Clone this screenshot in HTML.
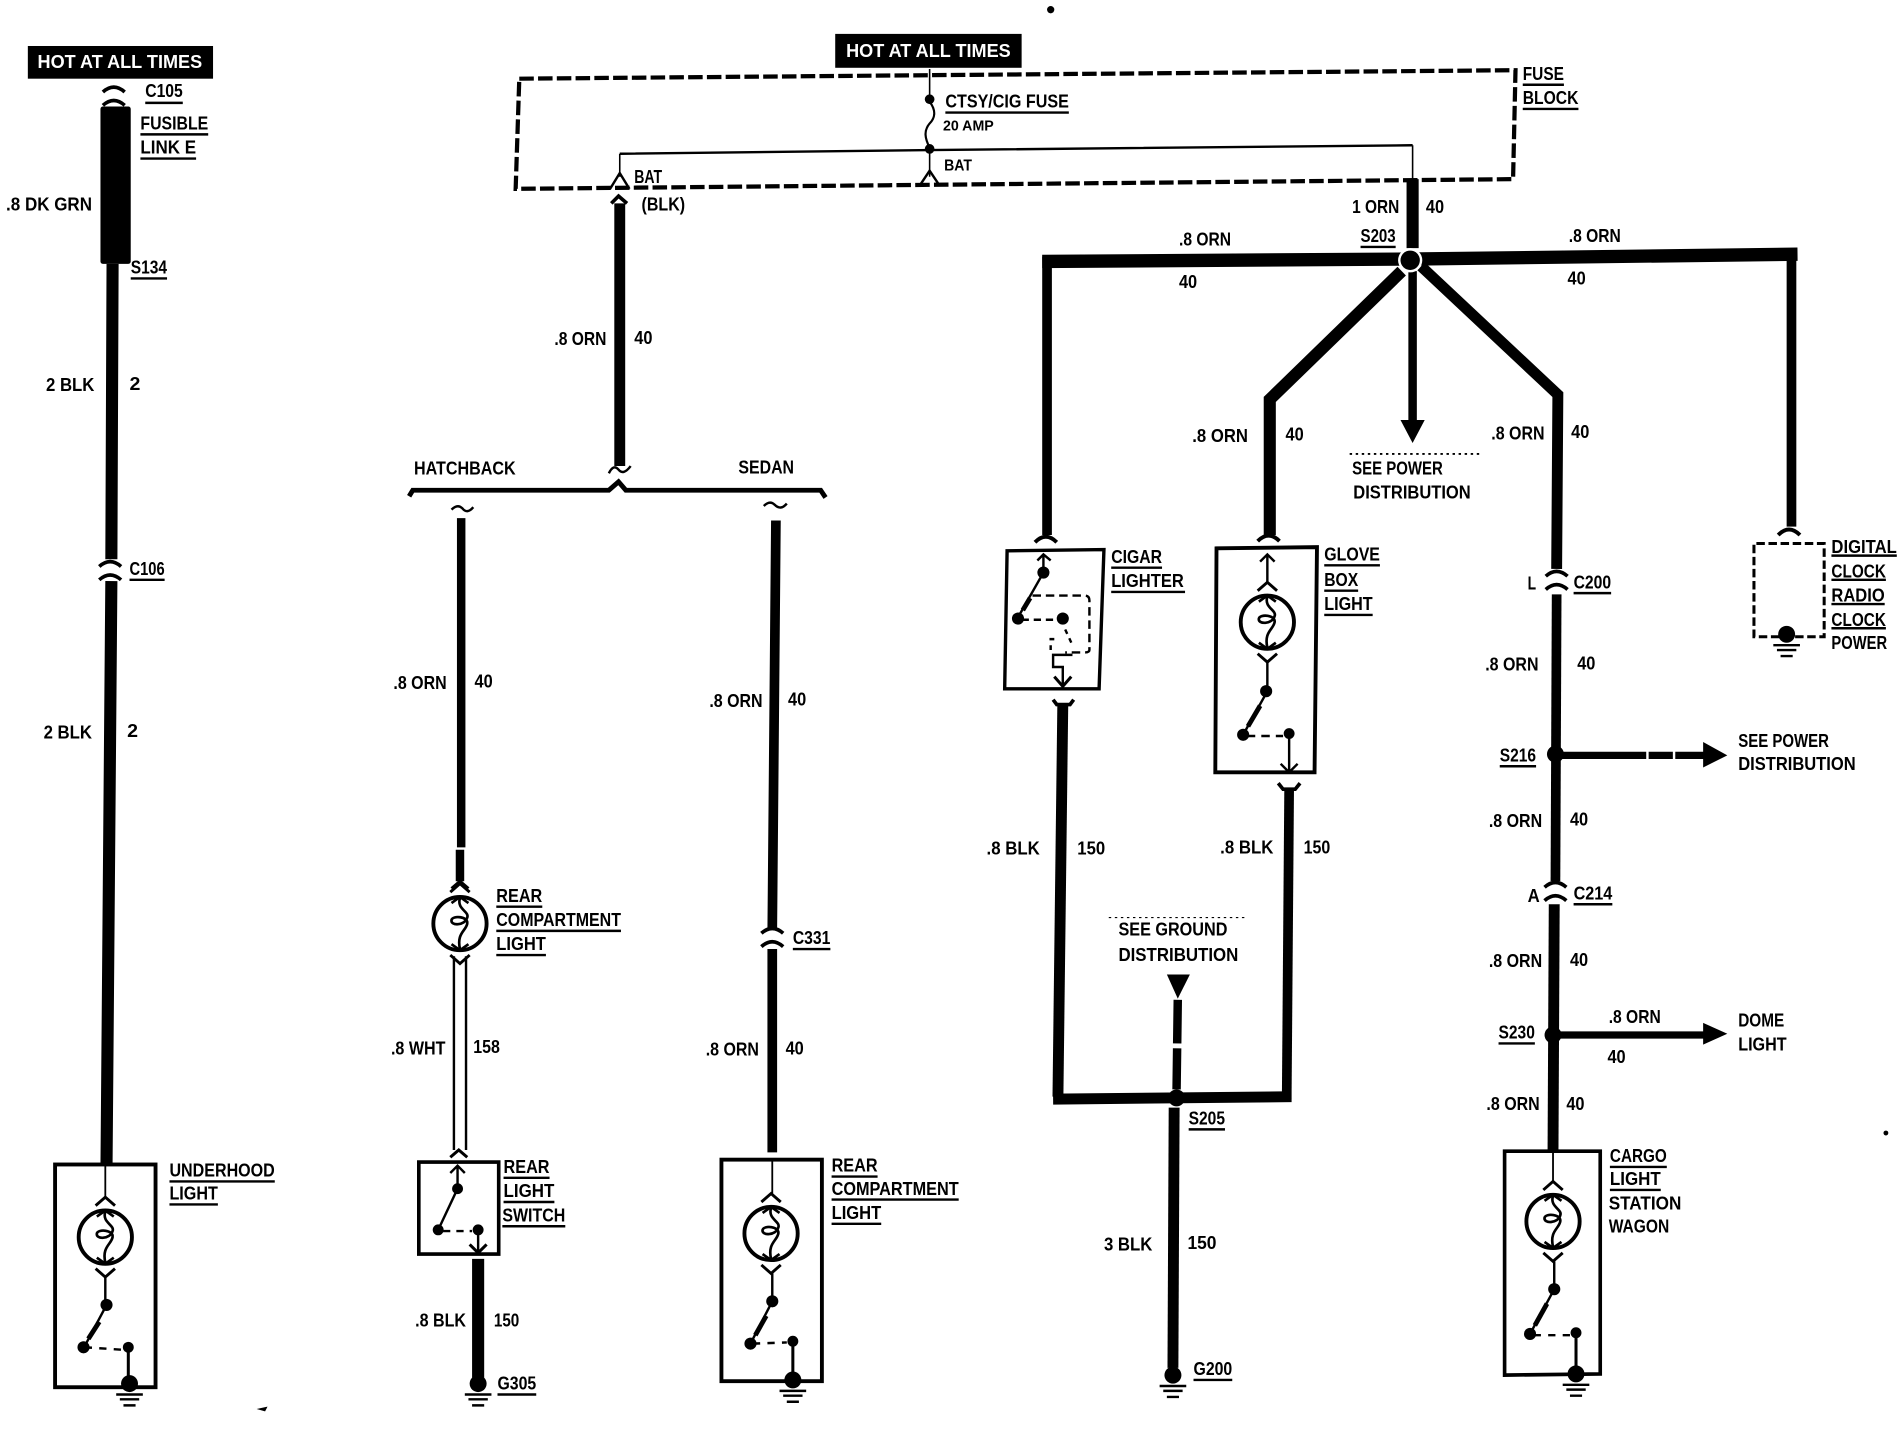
<!DOCTYPE html>
<html><head><meta charset="utf-8"><title>Courtesy light wiring diagram</title>
<style>
html,body{margin:0;padding:0;background:#fff}
svg{display:block}
text{font-family:"Liberation Sans",sans-serif;font-weight:bold;font-size:15px;fill:#000}
.w{fill:#fff}
.l{fill:none;stroke:#000;stroke-linecap:butt;stroke-linejoin:miter}
.u{stroke:#000;stroke-width:2;fill:none}
</style></head><body>
<svg xmlns="http://www.w3.org/2000/svg" width="1898" height="1440" viewBox="0 0 1568 1189.6" preserveAspectRatio="none">
<defs>
<g id="lamp" class="l">
<circle r="22" stroke-width="3.2"/>
<path d="M-8,-26 L0,-33 L8,-26 M-8,26 L0,33 L8,26" stroke-width="2.4"/>
<path d="M-7,-17 L0,-22 L7,-17 M-7,17 L0,22 L7,17" stroke-width="2.2"/>
<path d="M0,-21 C-3,-12 8,-10 6,-5 C4,2 -8,2 -7,-3 C-6,-7 7,-6 6,0 C5,6 -3,8 0,21" stroke-width="2.2"/>
</g>
<g id="gnd"><circle r="7" cy="0"/><path d="M-11,9 H11 M-8,13 H8 M-5,18 H5" stroke="#000" stroke-width="2"/></g>
<path id="arcd" class="l" stroke-width="3.2" d="M-9,-1 Q0,-10 9,-1"/>
<g id="conn" class="l" stroke-width="3"><path d="M-9,-3 Q0,-11 9,-3 M-9,8 Q0,0 9,8"/></g>
</defs>
<rect width="1568" height="1190" fill="#fff"/>

<!-- left column -->
<rect x="23" y="38" width="153" height="27"/>
<text class="w" x="31" y="56" textLength="136" lengthAdjust="spacingAndGlyphs">HOT AT ALL TIMES</text>
<use href="#conn" x="94" y="79"/>
<rect x="83" y="88" width="25" height="130" rx="2"/>
<path class="l" stroke-width="10" d="M93,218 L92,462 M92,480 L88,962"/>
<use href="#conn" x="91" y="471"/>
<rect x="45.500" y="962" width="83" height="184" class="l" stroke-width="3.2"/>
<path class="l" stroke-width="1.5" d="M87,962 V990"/>
<use href="#lamp" x="87" y="1022"/>
<path class="l" stroke-width="2" d="M87,1055 V1078 M87,1080 L70,1112"/>
<path class="l" stroke-width="4" d="M82,1092 L73,1106"/>
<circle cx="88" cy="1078" r="5"/><circle cx="69" cy="1113" r="5"/><circle cx="106" cy="1113" r="4.500"/>
<path class="l" stroke-width="2" d="M70,1113 L100,1115" stroke-dasharray="6 6"/>
<path class="l" stroke-width="2.500" d="M106,1113 V1140"/>
<use href="#gnd" x="107" y="1143"/>

<!-- fuse block -->
<rect x="690" y="28" width="154" height="28"/>
<text class="w" x="699" y="47" textLength="136" lengthAdjust="spacingAndGlyphs">HOT AT ALL TIMES</text>
<path class="l" stroke-width="3.500" stroke-dasharray="12 3.500" d="M429,65 L1252,58 L1250,148 L426,156 Z"/>
<path class="l" stroke-width="1.300" d="M768,57 V80 M1167,120 V150 M512,127 V146 M768,124 V146"/>
<path class="l" stroke-width="2" d="M512,127 L768,124 L1167,120"/>
<path class="l" stroke-width="1.800" d="M768,84 C774,92 772,98 768,102 C763,108 764,114 768,122"/>
<circle cx="768" cy="82" r="4"/><circle cx="768" cy="123" r="4"/>
<path class="l" stroke-width="2" d="M504,156 L512,143 L520,156 M760,153 L768,141 L776,153"/>
<path class="l" stroke-width="9" d="M512,168 L512,385"/>
<path class="l" stroke-width="3" d="M505,168 L511,162 L518,168"/>
<path class="l" stroke-width="2" d="M503,391 Q507,383 511,388 Q515,393 521,385"/>

<!-- hatchback / sedan bus -->
<path class="l" stroke-width="4" d="M338,410 L341,405 H503 L511,398 L517,405 H678 L682,411"/>
<path class="l" stroke-width="2" d="M373,421 Q378,416 382,420 Q386,425 391,419"/>
<path class="l" stroke-width="2" d="M631,418 Q636,413 640,417 Q645,422 650,416"/>
<path class="l" stroke-width="7" d="M381,428 L381,700"/>
<path class="l" stroke-width="7" d="M380,702 V728"/>
<path class="l" stroke-width="2.500" d="M373,734 L380,728 L387,734"/>
<use href="#lamp" x="380" y="763"/>
<path class="l" stroke-width="2" d="M375,790 V950 M385,790 V950"/>
<path class="l" stroke-width="2.500" d="M372,956 L379,950 L386,956"/>
<rect x="346" y="960" width="66" height="76" class="l" stroke-width="3"/>
<path class="l" stroke-width="2" d="M372,969 L378,963 L384,969 M378,963 V982 L362,1016 M395,1016 V1035"/>
<path class="l" stroke-width="2.500" d="M388,1028 L395,1035 L402,1028"/>
<path class="l" stroke-width="2" d="M366,1017 H390" stroke-dasharray="6 5"/>
<circle cx="378" cy="982" r="4.500"/><circle cx="362" cy="1016" r="4.500"/><circle cx="395" cy="1016" r="4.500"/>
<path class="l" stroke-width="10" d="M395,1040 V1138"/>
<use href="#gnd" x="395" y="1143"/>

<path class="l" stroke-width="8" d="M641,430 L638,768 M638,784 L638,952"/>
<use href="#conn" x="638" y="774"/>
<rect x="596" y="958" width="83" height="183" class="l" stroke-width="3.200"/>
<path class="l" stroke-width="1.500" d="M638,958 V986"/>
<use href="#lamp" x="637" y="1019"/>
<path class="l" stroke-width="2" d="M638,1052 V1075 L620,1110"/>
<path class="l" stroke-width="4" d="M633,1087 L624,1103"/>
<circle cx="638" cy="1075" r="5"/><circle cx="620" cy="1110" r="5"/><circle cx="655" cy="1108" r="4.500"/>
<path class="l" stroke-width="2" d="M622,1110 L650,1109" stroke-dasharray="6 6"/>
<path class="l" stroke-width="2.500" d="M655,1108 V1135"/>
<use href="#gnd" x="655" y="1140"/>

<!-- S203 distribution -->
<path class="l" stroke-width="10" d="M1167,148 V205"/>
<path class="l" stroke-width="11" d="M861,216 L1165,214 L1485,210"/>
<path class="l" stroke-width="8" d="M865,212 V442 M1480,206 V435"/>
<path class="l" stroke-width="10" d="M1158,224 L1049,330 L1049,442"/>
<path class="l" stroke-width="9" d="M1174,220 L1287,326 L1286,470"/>
<path class="l" stroke-width="7" d="M1167,224 V348"/>
<polygon points="1157,347 1177,347 1167,366"/>
<circle cx="1165" cy="215" r="10" fill="#fff"/>
<circle cx="1165" cy="215" r="8"/>
<use href="#arcd" x="864" y="449"/>
<use href="#arcd" x="1048" y="448"/>
<use href="#arcd" x="1478" y="443"/>

<!-- cigar lighter -->
<path class="l" stroke-width="2.800" d="M832,455 L912,454 L908,569 L830,569 Z"/>
<path class="l" stroke-width="2" d="M857,463 L862,458 L868,463 M862,458 V473 L841,510"/>
<path class="l" stroke-width="4" d="M851,494 L845,504"/>
<circle cx="862" cy="473" r="5"/><circle cx="841" cy="511" r="5"/><circle cx="878" cy="511" r="5"/>
<path class="l" stroke-width="2" d="M844,512 L873,512" stroke-dasharray="6 4"/>
<path class="l" stroke-width="2" d="M853,492 H896 Q900,492 900,496 V537 Q900,539 896,539 H880" stroke-dasharray="7 4"/>
<path class="l" stroke-width="2" d="M880,520 L886,533 M868,537 V528 H874" stroke-dasharray="4 4"/>
<path class="l" stroke-width="2" d="M886,541 H870 V551 H878 V567"/>
<path class="l" stroke-width="2.500" d="M871,559 L878,567 L885,559"/>
<path class="l" stroke-width="3" d="M870,578 L873,582 H884 L887,578"/>
<path class="l" stroke-width="9" d="M878,582 L874,906"/>

<!-- glove box -->
<path class="l" stroke-width="3.200" d="M1005,453 L1088,452 L1086,638 L1004,638 Z"/>
<path class="l" stroke-width="2" d="M1041,464 L1047,458 L1053,464 M1047,458 V481"/>
<use href="#lamp" x="1047" y="514"/>
<path class="l" stroke-width="2" d="M1047,547 V571 L1027,607"/>
<path class="l" stroke-width="4" d="M1041,583 L1031,600"/>
<circle cx="1046" cy="571" r="5"/><circle cx="1027" cy="607" r="5"/><circle cx="1065" cy="606" r="4.500"/>
<path class="l" stroke-width="2" d="M1030,608 L1060,608" stroke-dasharray="7 5"/>
<path class="l" stroke-width="2" d="M1065,606 V638 M1058,631 L1065,638 L1072,631"/>
<path class="l" stroke-width="3" d="M1056,647 L1060,652 H1070 L1074,647"/>
<path class="l" stroke-width="8" d="M1065,652 L1063,908"/>

<!-- S205 -->
<path class="l" stroke-width="9" d="M870,908 L1067,906"/>
<polygon points="964,805 983,805 973,825"/>
<path class="l" stroke-width="7" stroke-dasharray="36 4" d="M973,826 L972,900"/>
<circle cx="972" cy="907" r="7"/>
<path class="l" stroke-width="9" d="M970,915 L969,1130"/>
<use href="#gnd" x="969" y="1136"/>
<path d="M916,758 H1030" stroke="#000" stroke-width="1" stroke-dasharray="2 3"/>
<path d="M1115,375 H1222" stroke="#000" stroke-width="1.500" stroke-dasharray="2 3"/>

<!-- right column -->
<use href="#conn" x="1286" y="479"/>
<path class="l" stroke-width="8" d="M1286,491 L1285,728"/>
<use href="#conn" x="1285" y="736"/>
<path class="l" stroke-width="9" d="M1284,747 L1283,951"/>
<circle cx="1285" cy="623" r="7"/>
<circle cx="1283" cy="855" r="7"/>
<path class="l" stroke-width="6" stroke-dasharray="70 2 20 2" d="M1290,624 H1408"/>
<polygon points="1407,613 1427,624 1407,634"/>
<path class="l" stroke-width="6" d="M1288,855 H1408"/>
<polygon points="1407,845 1427,854 1407,863"/>
<path class="l" stroke-width="3" d="M1243,951 H1322 V1135 L1243,1136 Z"/>
<path class="l" stroke-width="1.500" d="M1283,951 V976"/>
<use href="#lamp" x="1283" y="1009"/>
<path class="l" stroke-width="2" d="M1284,1042 V1065 L1264,1102"/>
<path class="l" stroke-width="4" d="M1278,1077 L1268,1095"/>
<circle cx="1284" cy="1065" r="5"/><circle cx="1264" cy="1102" r="5"/><circle cx="1302" cy="1101" r="4.500"/>
<path class="l" stroke-width="2" d="M1267,1103 L1297,1103" stroke-dasharray="6 6"/>
<path class="l" stroke-width="2.500" d="M1302,1101 V1130"/>
<use href="#gnd" x="1302" y="1135"/>

<path class="l" stroke-width="2.500" stroke-dasharray="7 3" d="M1451,449 H1507 V526 H1449 V449"/>
<use href="#gnd" x="1476" y="524"/>

<!-- specks -->
<circle cx="868" cy="8" r="3"/><circle cx="1558" cy="936" r="2"/><path d="M212,1164 L221,1162 L219,1166 Z"/>

<!-- labels -->
<g>
<text x="120" y="80" textLength="31" lengthAdjust="spacingAndGlyphs">C105</text>
<text x="116" y="107" textLength="56" lengthAdjust="spacingAndGlyphs">FUSIBLE</text>
<text x="116" y="127" textLength="46" lengthAdjust="spacingAndGlyphs">LINK E</text>
<text x="5" y="174" textLength="71" lengthAdjust="spacingAndGlyphs">.8 DK GRN</text>
<text x="108" y="226" textLength="30" lengthAdjust="spacingAndGlyphs">S134</text>
<text x="38" y="323" textLength="40" lengthAdjust="spacingAndGlyphs">2 BLK</text>
<text x="107" y="322" textLength="9" lengthAdjust="spacingAndGlyphs">2</text>
<text x="107" y="475" textLength="29" lengthAdjust="spacingAndGlyphs">C106</text>
<text x="36" y="610" textLength="40" lengthAdjust="spacingAndGlyphs">2 BLK</text>
<text x="105" y="609" textLength="9" lengthAdjust="spacingAndGlyphs">2</text>
<text x="140" y="972" textLength="87" lengthAdjust="spacingAndGlyphs">UNDERHOOD</text>
<text x="140" y="991" textLength="40" lengthAdjust="spacingAndGlyphs">LIGHT</text>
<text x="524" y="151" textLength="23" lengthAdjust="spacingAndGlyphs">BAT</text>
<text x="530" y="174" textLength="36" lengthAdjust="spacingAndGlyphs">(BLK)</text>
<text x="781" y="89" textLength="102" lengthAdjust="spacingAndGlyphs">CTSY/CIG FUSE</text>
<text x="779" y="108" textLength="42" lengthAdjust="spacingAndGlyphs" style="font-size:12px">20 AMP</text>
<text x="780" y="141" textLength="23" lengthAdjust="spacingAndGlyphs" style="font-size:13px">BAT</text>
<text x="1258" y="66" textLength="34" lengthAdjust="spacingAndGlyphs">FUSE</text>
<text x="1258" y="86" textLength="46" lengthAdjust="spacingAndGlyphs">BLOCK</text>
<text x="1117" y="176" textLength="39" lengthAdjust="spacingAndGlyphs">1 ORN</text>
<text x="1178" y="176" textLength="15" lengthAdjust="spacingAndGlyphs">40</text>
<text x="1124" y="200" textLength="29" lengthAdjust="spacingAndGlyphs">S203</text>
<text x="974" y="203" textLength="43" lengthAdjust="spacingAndGlyphs">.8 ORN</text>
<text x="974" y="238" textLength="15" lengthAdjust="spacingAndGlyphs">40</text>
<text x="1296" y="200" textLength="43" lengthAdjust="spacingAndGlyphs">.8 ORN</text>
<text x="1295" y="235" textLength="15" lengthAdjust="spacingAndGlyphs">40</text>
<text x="458" y="285" textLength="43" lengthAdjust="spacingAndGlyphs">.8 ORN</text>
<text x="524" y="284" textLength="15" lengthAdjust="spacingAndGlyphs">40</text>
<text x="342" y="392" textLength="84" lengthAdjust="spacingAndGlyphs">HATCHBACK</text>
<text x="610" y="391" textLength="46" lengthAdjust="spacingAndGlyphs">SEDAN</text>
<text x="325" y="569" textLength="44" lengthAdjust="spacingAndGlyphs">.8 ORN</text>
<text x="392" y="568" textLength="15" lengthAdjust="spacingAndGlyphs">40</text>
<text x="586" y="584" textLength="44" lengthAdjust="spacingAndGlyphs">.8 ORN</text>
<text x="651" y="583" textLength="15" lengthAdjust="spacingAndGlyphs">40</text>
<text x="410" y="745" textLength="38" lengthAdjust="spacingAndGlyphs">REAR</text>
<text x="410" y="765" textLength="103" lengthAdjust="spacingAndGlyphs">COMPARTMENT</text>
<text x="410" y="785" textLength="41" lengthAdjust="spacingAndGlyphs">LIGHT</text>
<text x="655" y="780" textLength="31" lengthAdjust="spacingAndGlyphs">C331</text>
<text x="323" y="871" textLength="45" lengthAdjust="spacingAndGlyphs">.8 WHT</text>
<text x="391" y="870" textLength="22" lengthAdjust="spacingAndGlyphs">158</text>
<text x="583" y="872" textLength="44" lengthAdjust="spacingAndGlyphs">.8 ORN</text>
<text x="649" y="871" textLength="15" lengthAdjust="spacingAndGlyphs">40</text>
<text x="416" y="969" textLength="38" lengthAdjust="spacingAndGlyphs">REAR</text>
<text x="416" y="989" textLength="42" lengthAdjust="spacingAndGlyphs">LIGHT</text>
<text x="415" y="1009" textLength="52" lengthAdjust="spacingAndGlyphs">SWITCH</text>
<text x="687" y="968" textLength="38" lengthAdjust="spacingAndGlyphs">REAR</text>
<text x="687" y="987" textLength="105" lengthAdjust="spacingAndGlyphs">COMPARTMENT</text>
<text x="687" y="1007" textLength="41" lengthAdjust="spacingAndGlyphs">LIGHT</text>
<text x="343" y="1096" textLength="42" lengthAdjust="spacingAndGlyphs">.8 BLK</text>
<text x="408" y="1096" textLength="21" lengthAdjust="spacingAndGlyphs">150</text>
<text x="411" y="1148" textLength="32" lengthAdjust="spacingAndGlyphs">G305</text>
<text x="918" y="465" textLength="42" lengthAdjust="spacingAndGlyphs">CIGAR</text>
<text x="918" y="485" textLength="60" lengthAdjust="spacingAndGlyphs">LIGHTER</text>
<text x="1094" y="463" textLength="46" lengthAdjust="spacingAndGlyphs">GLOVE</text>
<text x="1094" y="484" textLength="28" lengthAdjust="spacingAndGlyphs">BOX</text>
<text x="1094" y="504" textLength="40" lengthAdjust="spacingAndGlyphs">LIGHT</text>
<text x="985" y="365" textLength="46" lengthAdjust="spacingAndGlyphs">.8 ORN</text>
<text x="1062" y="364" textLength="15" lengthAdjust="spacingAndGlyphs">40</text>
<text x="1117" y="392" textLength="75" lengthAdjust="spacingAndGlyphs">SEE POWER</text>
<text x="1118" y="412" textLength="97" lengthAdjust="spacingAndGlyphs">DISTRIBUTION</text>
<text x="1232" y="363" textLength="44" lengthAdjust="spacingAndGlyphs">.8 ORN</text>
<text x="1298" y="362" textLength="15" lengthAdjust="spacingAndGlyphs">40</text>
<text x="1262" y="487" textLength="7" lengthAdjust="spacingAndGlyphs">L</text>
<text x="1300" y="486" textLength="31" lengthAdjust="spacingAndGlyphs">C200</text>
<text x="1513" y="457" textLength="54" lengthAdjust="spacingAndGlyphs">DIGITAL</text>
<text x="1513" y="477" textLength="45" lengthAdjust="spacingAndGlyphs">CLOCK</text>
<text x="1513" y="497" textLength="44" lengthAdjust="spacingAndGlyphs">RADIO</text>
<text x="1513" y="517" textLength="45" lengthAdjust="spacingAndGlyphs">CLOCK</text>
<text x="1513" y="536" textLength="46" lengthAdjust="spacingAndGlyphs">POWER</text>
<text x="1227" y="554" textLength="44" lengthAdjust="spacingAndGlyphs">.8 ORN</text>
<text x="1303" y="553" textLength="15" lengthAdjust="spacingAndGlyphs">40</text>
<text x="1239" y="629" textLength="30" lengthAdjust="spacingAndGlyphs">S216</text>
<text x="1436" y="617" textLength="75" lengthAdjust="spacingAndGlyphs">SEE POWER</text>
<text x="1436" y="636" textLength="97" lengthAdjust="spacingAndGlyphs">DISTRIBUTION</text>
<text x="1230" y="683" textLength="44" lengthAdjust="spacingAndGlyphs">.8 ORN</text>
<text x="1297" y="682" textLength="15" lengthAdjust="spacingAndGlyphs">40</text>
<text x="1262" y="745" textLength="10" lengthAdjust="spacingAndGlyphs">A</text>
<text x="1300" y="743" textLength="32" lengthAdjust="spacingAndGlyphs">C214</text>
<text x="1230" y="799" textLength="44" lengthAdjust="spacingAndGlyphs">.8 ORN</text>
<text x="1297" y="798" textLength="15" lengthAdjust="spacingAndGlyphs">40</text>
<text x="1238" y="858" textLength="30" lengthAdjust="spacingAndGlyphs">S230</text>
<text x="1329" y="845" textLength="43" lengthAdjust="spacingAndGlyphs">.8 ORN</text>
<text x="1328" y="878" textLength="15" lengthAdjust="spacingAndGlyphs">40</text>
<text x="1436" y="848" textLength="38" lengthAdjust="spacingAndGlyphs">DOME</text>
<text x="1436" y="868" textLength="40" lengthAdjust="spacingAndGlyphs">LIGHT</text>
<text x="1228" y="917" textLength="44" lengthAdjust="spacingAndGlyphs">.8 ORN</text>
<text x="1294" y="917" textLength="15" lengthAdjust="spacingAndGlyphs">40</text>
<text x="1330" y="960" textLength="47" lengthAdjust="spacingAndGlyphs">CARGO</text>
<text x="1330" y="979" textLength="42" lengthAdjust="spacingAndGlyphs">LIGHT</text>
<text x="1329" y="999" textLength="60" lengthAdjust="spacingAndGlyphs">STATION</text>
<text x="1329" y="1018" textLength="50" lengthAdjust="spacingAndGlyphs">WAGON</text>
<text x="815" y="706" textLength="44" lengthAdjust="spacingAndGlyphs">.8 BLK</text>
<text x="890" y="706" textLength="23" lengthAdjust="spacingAndGlyphs">150</text>
<text x="1008" y="705" textLength="44" lengthAdjust="spacingAndGlyphs">.8 BLK</text>
<text x="1077" y="705" textLength="22" lengthAdjust="spacingAndGlyphs">150</text>
<text x="924" y="773" textLength="90" lengthAdjust="spacingAndGlyphs">SEE GROUND</text>
<text x="924" y="794" textLength="99" lengthAdjust="spacingAndGlyphs">DISTRIBUTION</text>
<text x="982" y="929" textLength="30" lengthAdjust="spacingAndGlyphs">S205</text>
<text x="912" y="1033" textLength="40" lengthAdjust="spacingAndGlyphs">3 BLK</text>
<text x="981" y="1032" textLength="24" lengthAdjust="spacingAndGlyphs">150</text>
<text x="986" y="1136" textLength="32" lengthAdjust="spacingAndGlyphs">G200</text>
</g>

<!-- label underlines -->
<path class="u" d="M120,85 H151 M116,111 H172 M116,131 H162 M108,230 H138 M107,479 H136 M140,976 H227 M140,995 H180
M781,93 H883 M1258,70 H1292 M1258,90 H1304 M1124,204 H1153
M410,749 H448 M410,769 H513 M410,789 H451 M655,784 H686
M416,973 H454 M416,993 H458 M415,1013 H467 M687,972 H725 M687,991 H792 M687,1011 H728
M411,1152 H443 M918,469 H960 M918,489 H979 M1094,467 H1140 M1094,488 H1122 M1094,508 H1134
M1300,490 H1331 M1513,459 H1567 M1513,479 H1558 M1513,499 H1557 M1513,519 H1558
M1239,633 H1269 M1300,747 H1332 M1238,862 H1268 M1330,964 H1377 M1330,983 H1372
M982,933 H1012 M986,1140 H1018"/>
</svg>
</body></html>
